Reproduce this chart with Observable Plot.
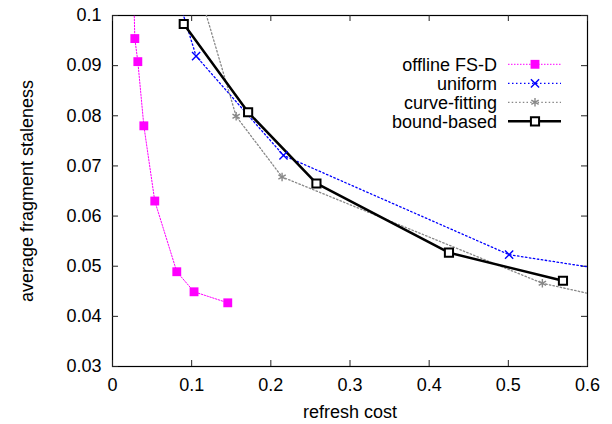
<!DOCTYPE html>
<html>
<head>
<meta charset="utf-8">
<script src="https://cdn.jsdelivr.net/npm/d3@7"></script>
<script src="https://cdn.jsdelivr.net/npm/@observablehq/plot@0.6"></script>
<style>
  html, body { margin: 0; padding: 0; background: #fff; }
  #chart svg { display: block; }
</style>
</head>
<body>
<div id="chart"></div>
<script>
// ---- data ----
const xTicks = [0, 0.1, 0.2, 0.3, 0.4, 0.5, 0.6];
const yTicks = [0.03, 0.04, 0.05, 0.06, 0.07, 0.08, 0.09, 0.1];
const seriesNames = ["offline FS-D", "uniform", "curve-fitting", "bound-based"];

const fsdX = [0.026, 0.0282, 0.032, 0.0396, 0.0534, 0.0812, 0.103, 0.1456];
const fsdY = [0.11, 0.0954, 0.0908, 0.078, 0.063, 0.0489, 0.0449, 0.0427];

const uniformX = [0.08, 0.1056, 0.216, 0.501, 0.8];
const uniformY = [0.105, 0.0919, 0.0721, 0.0523, 0.045];

const curveX = [0.1, 0.1562, 0.2142, 0.543, 0.8];
const curveY = [0.11, 0.0799, 0.0678, 0.0466, 0.0376];

const boundX = [0.09, 0.1713, 0.2576, 0.425, 0.569];
const boundY = [0.0983, 0.0807, 0.0665, 0.0527, 0.0471];

const xLabel = "refresh cost";
const yLabel = "average fragment staleness";

// ---- build ----
const toPts = (xs, ys) => xs.map((x, i) => ({x, y: ys[i]}));
const fsd = toPts(fsdX, fsdY);
const uniform = toPts(uniformX, uniformY);
const curve = toPts(curveX, curveY);
const bound = toPts(boundX, boundY);

const styles = [
  {stroke: "#ff00ff", width: 1, dash: "1.5,1.5", symbol: "square", r: 5, fill: "#ff00ff", mstroke: "none", msw: 0},
  {stroke: "#0000ff", width: 1.3, dash: "1.5,2.5", symbol: "times", r: 3.8, fill: "none", mstroke: "#0000ff", msw: 1.4},
  {stroke: "#888888", width: 1.3, dash: "1.5,2.2", symbol: "asterisk", r: 4, fill: "none", mstroke: "#888888", msw: 1.4},
  {stroke: "#000000", width: 2.5, dash: null, symbol: "square", r: 4.6, fill: "white", mstroke: "#000000", msw: 2}
];
const datasets = [fsd, uniform, curve, bound];

const W = 612, H = 424, mL = 112, mR = 25, mT = 15, mB = 58;
const innerH = H - mT - mB, innerW = W - mL - mR;
const tick = 6;
const FONT = "'Liberation Sans', Arial, Helvetica, sans-serif";

const marks = [
  Plot.frame({stroke: "black", strokeWidth: 1.2}),
  Plot.tickX(xTicks, {x: d => d, insetTop: innerH - tick, stroke: "#222", strokeWidth: 1}),
  Plot.tickX(xTicks, {x: d => d, insetBottom: innerH - tick, stroke: "#222", strokeWidth: 1}),
  Plot.tickY(yTicks, {y: d => d, insetRight: innerW - tick, stroke: "#222", strokeWidth: 1}),
  Plot.tickY(yTicks, {y: d => d, insetLeft: innerW - tick, stroke: "#222", strokeWidth: 1}),
  Plot.axisX({ticks: xTicks, tickSize: 0, tickPadding: 12, tickFormat: d => String(+d.toFixed(2)), label: null}),
  Plot.axisY({ticks: yTicks, tickSize: 0, tickPadding: 11, tickFormat: d => String(+d.toFixed(2)), label: null}),
  Plot.text([xLabel], {text: d => d, frameAnchor: "bottom", textAnchor: "middle", lineAnchor: "middle", dy: 46, fontSize: 18}),
  Plot.text([yLabel], {text: d => d, frameAnchor: "left", textAnchor: "middle", lineAnchor: "middle", dx: -85, rotate: -90, fontSize: 18})
];
datasets.forEach((data, i) => {
  const s = styles[i];
  marks.push(Plot.line(data, {x: "x", y: "y", stroke: s.stroke, strokeWidth: s.width, strokeDasharray: s.dash, clip: true}));
});
datasets.forEach((data, i) => {
  const s = styles[i];
  marks.push(Plot.dot(data, {x: "x", y: "y", symbol: s.symbol, r: s.r, fill: s.fill, stroke: s.mstroke, strokeWidth: s.msw, clip: true}));
});

const svg = Plot.plot({
  width: W, height: H,
  marginLeft: mL, marginRight: mR, marginTop: mT, marginBottom: mB,
  style: {fontFamily: FONT, fontSize: "18px", color: "black", background: "white"},
  x: {domain: [0, 0.6]},
  y: {domain: [0.03, 0.1]},
  marks
});

// ---- legend ----
const symbolMap = {square: d3.symbolSquare, times: d3.symbolTimes, asterisk: d3.symbolAsterisk};
const lg = d3.select(svg).append("g").attr("font-family", FONT).attr("font-size", 18);
const rowY = (i) => 64.3 + i * 19;
seriesNames.forEach((name, i) => {
  const s = styles[i];
  const y = rowY(i);
  lg.append("text").attr("x", 497).attr("y", y).attr("dy", "0.35em").attr("text-anchor", "end").attr("fill", "black").text(name);
  lg.append("line").attr("x1", 508).attr("x2", 561).attr("y1", y).attr("y2", y)
    .attr("stroke", s.stroke).attr("stroke-width", s.width).attr("stroke-dasharray", s.dash);
  lg.append("path").attr("transform", `translate(535,${y})`)
    .attr("d", d3.symbol(symbolMap[s.symbol], Math.PI * s.r * s.r)())
    .attr("fill", s.fill).attr("stroke", s.mstroke).attr("stroke-width", s.msw);
});

document.getElementById("chart").appendChild(svg);
</script>
</body>
</html>
